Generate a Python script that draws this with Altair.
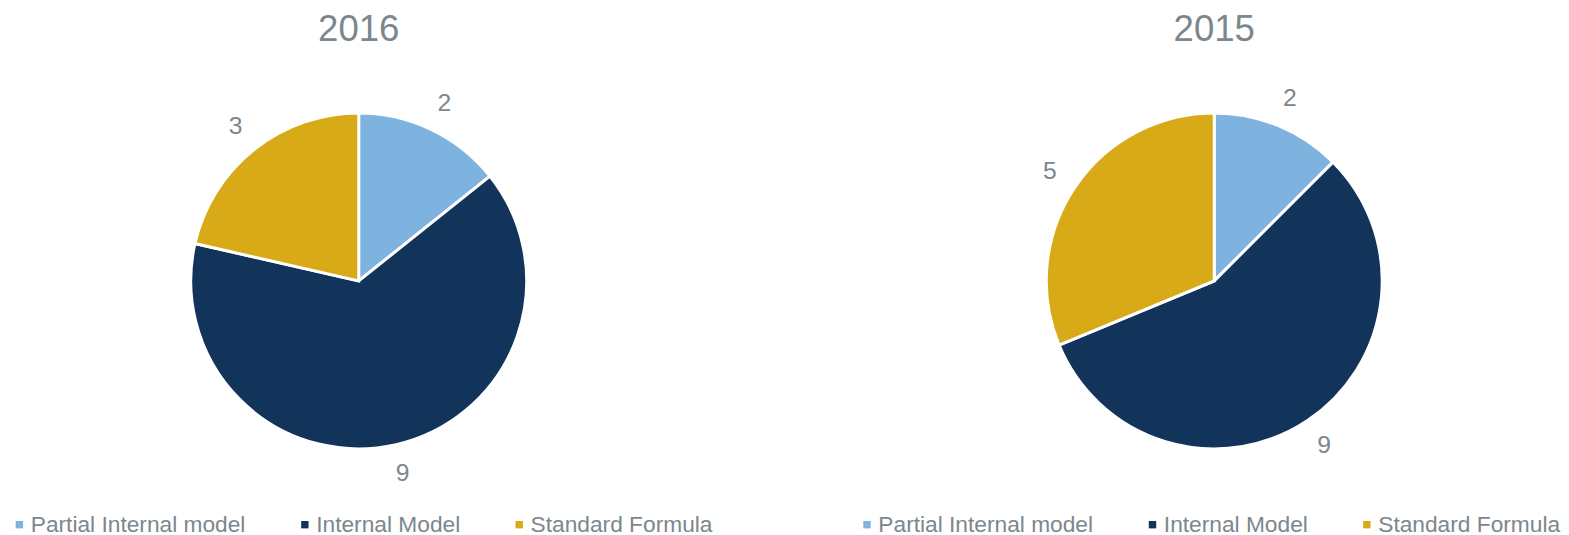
import altair as alt
import pandas as pd

categories = ["Partial Internal model", "Internal Model", "Standard Formula"]
years = ["2016", "2015"]
values_2016 = [2, 9, 3]
values_2015 = [2, 9, 5]
colors = ["#7EB2DF", "#13345A", "#D8AA18"]
GREY = "#7B878D"
FONT = "Liberation Sans"


def pie(year, values, width, legend_x):
    df = pd.DataFrame({"category": categories, "value": values, "order": [0, 1, 2]})
    base = alt.Chart(df).encode(
        theta=alt.Theta("value:Q", stack=True),
        order=alt.Order("order:Q"),
    )
    color = alt.Color(
        "category:N",
        scale=alt.Scale(domain=categories, range=colors),
        sort=categories,
        legend=alt.Legend(
            title=None,
            orient="none",
            direction="horizontal",
            legendX=legend_x,
            legendY=454,
            columns=3,
            columnPadding=48,
            labelFontSize=23,
            labelFont=FONT,
            labelColor=GREY,
            labelOffset=0,
            labelLimit=0,
            symbolType="square",
            symbolSize=56,
            symbolStrokeWidth=0,
        ),
    )
    arcs = base.mark_arc(outerRadius=170, stroke="white", strokeWidth=3).encode(color=color)
    labels = base.mark_text(radius=200, fontSize=25, color=GREY, font=FONT).encode(text="value:Q")
    return alt.layer(arcs, labels).properties(
        width=width,
        height=438,
        title=alt.TitleParams(year, fontSize=37, color=GREY, font=FONT, fontWeight="normal",
                              anchor="middle", offset=16),
    ).resolve_scale(color="independent")


chart = alt.hconcat(
    pie(years[0], values_2016, 706, -2), pie(years[1], values_2015, 696, -15), spacing=144
).resolve_scale(color="independent").properties(
    padding={"top": 0, "left": 0, "right": 0, "bottom": 0}
).configure_view(stroke=None)

chart.save("out.html", embed_options={"renderer": "svg", "actions": False})
